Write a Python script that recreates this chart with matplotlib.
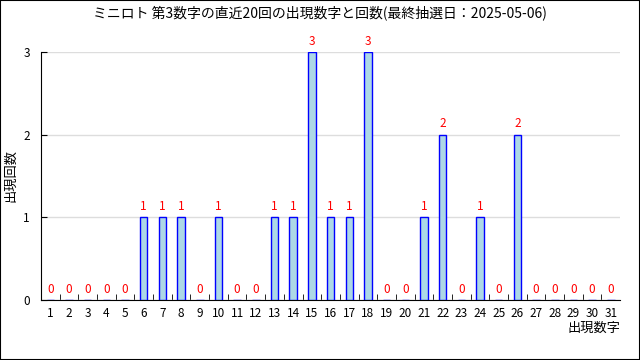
import matplotlib
matplotlib.use("Agg")
import matplotlib.pyplot as plt
from matplotlib.patches import Rectangle

plt.rcParams['font.family'] = ['Noto Sans CJK JP', 'DejaVu Sans']

numbers = list(range(1, 32))
counts = [0, 0, 0, 0, 0, 1, 1, 1, 0, 1, 0, 0, 1, 1, 3, 1, 1, 3, 0, 0,
          1, 2, 0, 1, 0, 2, 0, 0, 0, 0, 0]
title = "ミニロト 第3数字の直近20回の出現数字と回数(最終抽選日：2025-05-06)"
xlabel = "出現数字"
ylabel = "出現回数"

fig = plt.figure(figsize=(6.4, 3.6), dpi=100)
fig.patches.append(Rectangle((0, 0), 1, 1, transform=fig.transFigure,
                             fill=False, edgecolor='black', linewidth=1.5))
ax = fig.add_axes([0.064, 0.1667, 0.905, 0.689])

ax.bar(numbers, counts, width=0.4, color='#add8e6', edgecolor='#0000ff',
       linewidth=1, zorder=3)
for n, c in zip(numbers, counts):
    ax.text(n, c + 0.05, str(c), color='red', ha='center', va='bottom',
            fontsize=8.5, clip_on=False, zorder=4)

ax.set_xlim(0.5, 31.5)
ax.set_ylim(0, 3)
ax.set_yticks([0, 1, 2, 3])
ax.set_xticks(numbers)
ax.set_xticks([i + 0.5 for i in range(0, 31)], minor=True)
ax.tick_params(axis='x', which='major', length=0, labelsize=8.5, pad=5)
ax.tick_params(axis='x', which='minor', direction='in', length=4)
ax.tick_params(axis='y', direction='in', length=4, labelsize=8.5, pad=8)
ax.grid(axis='y', color='#dddddd', linewidth=1, zorder=0)
for s in ['top', 'right']:
    ax.spines[s].set_visible(False)

fig.text(0.5, 1 - 13 / 360, title, ha='center', va='center', fontsize=10)
ax.set_ylabel(ylabel, fontsize=9.5)
ax.text(1.0, -0.09, xlabel, transform=ax.transAxes, ha='right', va='top', fontsize=9.5)

fig.savefig("out.png", dpi=100)
